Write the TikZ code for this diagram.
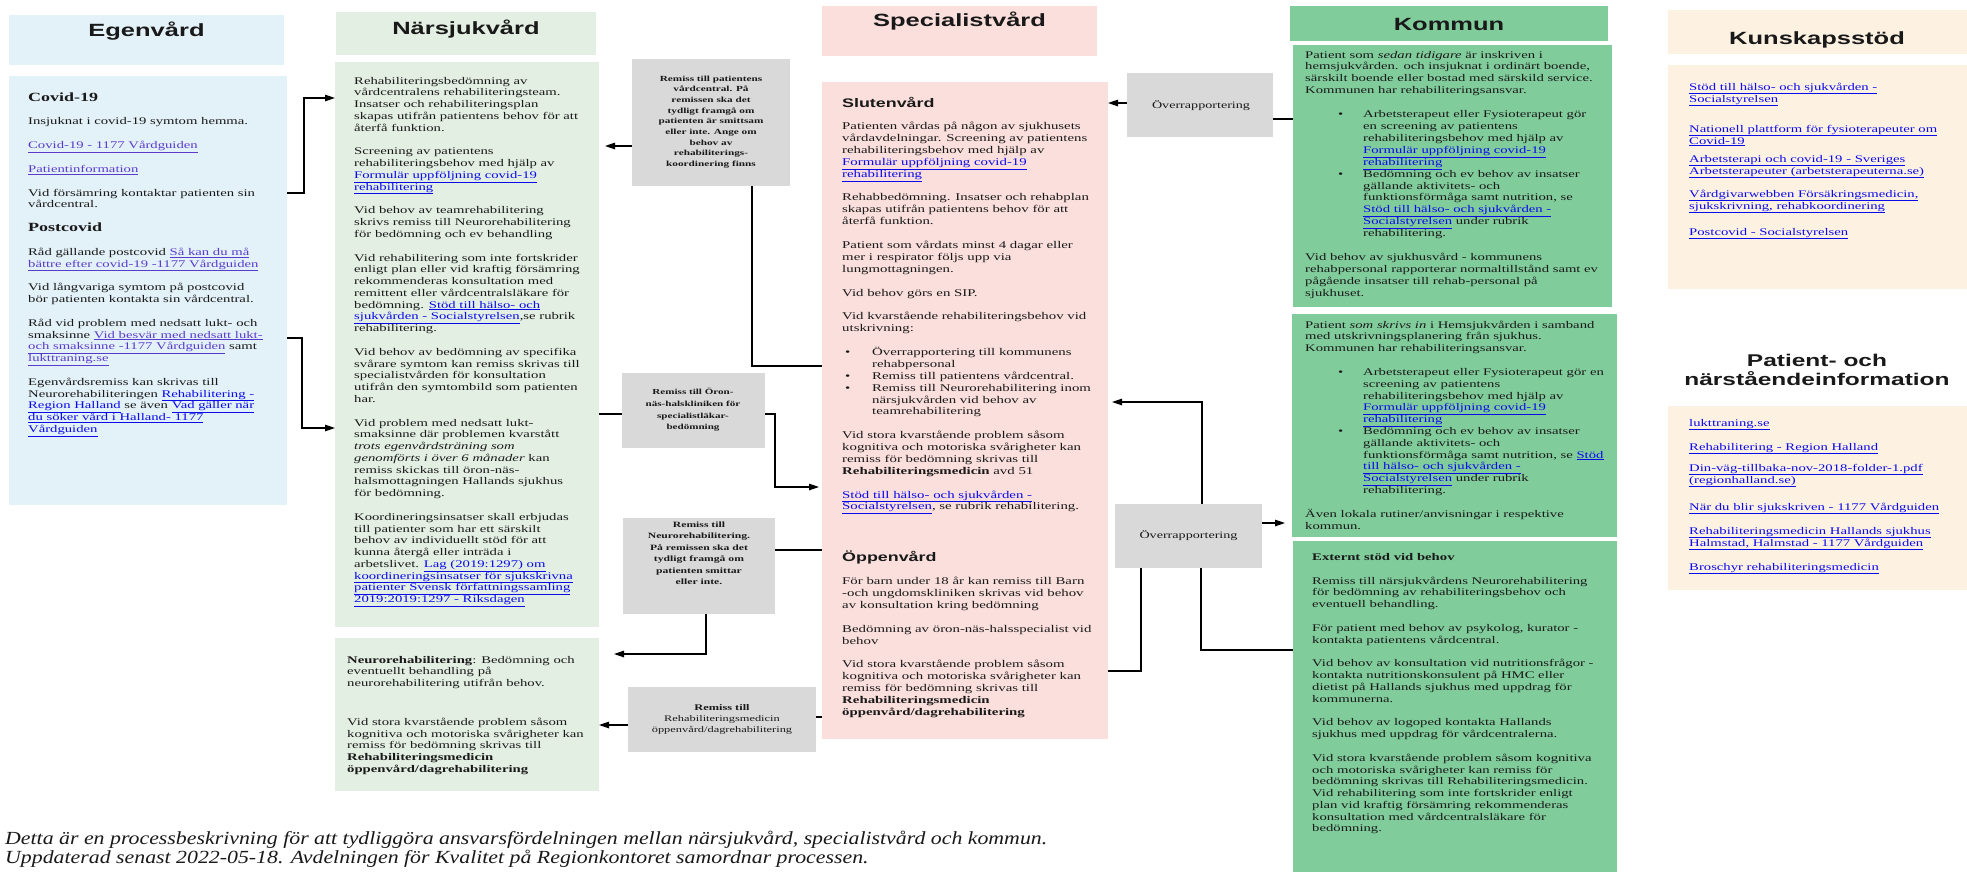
\documentclass[tikz,border=0pt]{standalone}
\usepackage{fontspec}
\setmainfont{Liberation Serif}[FakeStretch=1.44]
\newfontfamily\hdfont{Liberation Sans}[FakeStretch=1.44]
\newfontfamily\footfont{Liberation Serif}[FakeStretch=1.18]
\usetikzlibrary{arrows.meta}
\definecolor{egbg}{RGB}{227,241,248}
\definecolor{nsbg}{RGB}{227,239,227}
\definecolor{spbg}{RGB}{250,223,220}
\definecolor{kobg}{RGB}{128,204,155}
\definecolor{ksbg}{RGB}{253,242,226}
\definecolor{gry}{RGB}{217,217,217}
\definecolor{lnk}{RGB}{10,10,235}
\definecolor{lnkp}{RGB}{90,60,205}
\definecolor{ink}{RGB}{25,25,25}
\newcommand\lk[1]{{\color{lnk}\underline{#1}}}
\newcommand\lp[1]{{\color{lnkp}\underline{#1}}}
\newcommand\tb[3]{\parbox[t]{440pt}{\fontsize{#1}{#2}\selectfont\parskip=12pt\relax\raggedright\leavevmode #3}}
\newcommand\hb[1]{{\fontsize{12.5}{11.75}\selectfont\bfseries #1}}
\newcommand\kbul{\hspace*{33pt}\makebox[25pt][l]{•}}
\newcommand\kind{\hspace*{58pt}}
\newcommand\sbul{\hspace*{3pt}\makebox[27pt][l]{•}}
\newcommand\sind{\hspace*{30pt}}
\begin{document}
\begin{tikzpicture}[x=1pt,y=-1pt,
  panel/.style={anchor=north west, inner sep=0pt, outer sep=0pt, draw=none},
  hd/.style={anchor=base, inner sep=0pt, text=ink, font=\hdfont\bfseries\fontsize{17.7}{20}\selectfont},
  sub/.style={anchor=base west, inner sep=0pt, text=ink, font=\hdfont\bfseries\fontsize{12.4}{14}\selectfont},
  body/.style={anchor=base west, inner sep=0pt, text=ink},
  gtext/.style={align=center, inner sep=0pt, text=ink, font=\fontsize{7.8}{10.7}\selectfont\bfseries},
  otext/.style={inner sep=0pt, text=ink, font=\fontsize{9.8}{11}\selectfont},
  ln/.style={draw=black, line width=1.2pt},
  arr/.style={ln, -{Triangle[length=10pt,width=6.5pt]}},
]
\useasboundingbox (0,0) rectangle (1967,871);
\fill[white] (0,0) rectangle (1967,871);

% ---------- panels ----------
\node[panel, fill=egbg, minimum width=275pt, minimum height=50pt] (egH) at (9,15) {};
\node[panel, fill=egbg, minimum width=278pt, minimum height=429pt] (egB) at (9,76) {};
\node[panel, fill=nsbg, minimum width=260pt, minimum height=43pt] (nsH) at (336,12) {};
\node[panel, fill=nsbg, minimum width=264pt, minimum height=565pt] (ns1) at (335,62) {};
\node[panel, fill=nsbg, minimum width=264pt, minimum height=153pt] (ns2) at (335,638) {};
\node[panel, fill=spbg, minimum width=275pt, minimum height=50pt] (spH) at (822,6) {};
\node[panel, fill=spbg, minimum width=286pt, minimum height=657pt] (sp) at (822,82) {};
\node[panel, fill=kobg, minimum width=318pt, minimum height=35pt] (koH) at (1290,6) {};
\node[panel, fill=kobg, minimum width=319pt, minimum height=262pt] (k1) at (1293,45) {};
\node[panel, fill=kobg, minimum width=325pt, minimum height=223pt] (k2) at (1292,314) {};
\node[panel, fill=kobg, minimum width=324pt, minimum height=331pt] (k3) at (1293,541) {};
\node[panel, fill=ksbg, minimum width=300pt, minimum height=44pt] (ksH) at (1668,10) {};
\node[panel, fill=ksbg, minimum width=300pt, minimum height=224pt] (ks1) at (1668,65) {};
\node[panel, fill=ksbg, minimum width=300pt, minimum height=184pt] (ks2) at (1668,406) {};

\node[panel, fill=gry, minimum width=158pt, minimum height=127pt] (g1) at (632,59) {};
\node[panel, fill=gry, minimum width=143pt, minimum height=75pt] (g2) at (622,373) {};
\node[panel, fill=gry, minimum width=152pt, minimum height=96pt] (g3) at (623,518) {};
\node[panel, fill=gry, minimum width=188pt, minimum height=65pt] (g4) at (628,687) {};
\node[panel, fill=gry, minimum width=146pt, minimum height=64pt] (o1) at (1127,73) {};
\node[panel, fill=gry, minimum width=147pt, minimum height=64pt] (o2) at (1115,504) {};

% ---------- headers ----------
\node[hd] (egT) at (146.5,36) {Egenvård};
\node[hd] (nsT) at (466,34.3) {Närsjukvård};
\node[hd] (spT) at (959.5,26.7) {Specialistvård};
\node[hd] (koT) at (1449,30) {Kommun};
\node[hd] (ksT) at (1817,44) {Kunskapsstöd};
\node[hd, font=\hdfont\bfseries\fontsize{17}{19}\selectfont] (piT1) at (1817,366) {Patient- och};
\node[hd, font=\hdfont\bfseries\fontsize{17}{19}\selectfont] (piT2) at (1817,385) {närståendeinformation};

% ---------- Egenvård ----------
\node[body] (egX) at (28,101) {\tb{10.2}{11.75}{%
\hb{Covid-19}\par
Insjuknat i covid-19 symtom hemma.\par
\lp{Covid-19 - 1177 Vårdguiden}\par
\lp{Patientinformation}\par
Vid försämring kontaktar patienten sin\\ vårdcentral.\par
\hb{Postcovid}\par
Råd gällande postcovid \lp{Så kan du må}\\ \lp{bättre efter covid-19 -1177 Vårdguiden}\par
Vid långvariga symtom på postcovid\\ bör patienten kontakta sin vårdcentral.\par
Råd vid problem med nedsatt lukt- och\\ smaksinne \lp{Vid besvär med nedsatt lukt-}\\ \lp{och smaksinne -1177 Vårdguiden} samt\\ \lp{lukttraning.se}\par
Egenvårdsremiss kan skrivas till\\ Neurorehabiliteringen \lk{Rehabilitering -}\\ \lk{Region Halland} se även \lk{Vad gäller när}\\ \lk{du söker vård i Halland- 1177}\\ \lk{Vårdguiden}}};

% ---------- Närsjukvård ----------
\node[body] (ns1X) at (354,84) {\tb{10.2}{11.75}{%
Rehabiliteringsbedömning av\\ vårdcentralens rehabiliteringsteam.\\ Insatser och rehabiliteringsplan\\ skapas utifrån patientens behov för att\\ återfå funktion.\par
Screening av patientens\\ rehabiliteringsbehov med hjälp av\\ \lk{Formulär uppföljning covid-19}\\ \lk{rehabilitering}\par
Vid behov av teamrehabilitering\\ skrivs remiss till Neurorehabilitering\\ för bedömning och ev behandling\par
Vid rehabilitering som inte fortskrider\\ enligt plan eller vid kraftig försämring\\ rekommenderas konsultation med\\ remittent eller vårdcentralsläkare för\\ bedömning. \lk{Stöd till hälso- och}\\ \lk{sjukvården - Socialstyrelsen},se rubrik\\ rehabilitering.\par
Vid behov av bedömning av specifika\\ svårare symtom kan remiss skrivas till\\ specialistvården för konsultation\\ utifrån den symtombild som patienten\\ har.\par
Vid problem med nedsatt lukt-\\ smaksinne där problemen kvarstått\\ \textit{trots egenvårdsträning som}\\ \textit{genomförts i över 6 månader} kan\\ remiss skickas till öron-näs-\\ halsmottagningen Hallands sjukhus\\ för bedömning.\par
Koordineringsinsatser skall erbjudas\\ till patienter som har ett särskilt\\ behov av individuellt stöd för att\\ kunna återgå eller inträda i\\ arbetslivet. \lk{Lag (2019:1297) om}\\ \lk{koordineringsinsatser för sjukskrivna}\\ \lk{patienter Svensk författningssamling}\\ \lk{2019:2019:1297 - Riksdagen}}};

\node[body] (ns2X) at (347,663) {\tb{10.2}{11.75}{%
\textbf{Neurorehabilitering}: Bedömning och\\ eventuellt behandling på\\ neurorehabilitering utifrån behov.\par\vspace{15pt}
Vid stora kvarstående problem såsom\\ kognitiva och motoriska svårigheter kan\\ remiss för bedömning skrivas till\\ \textbf{Rehabiliteringsmedicin}\\ \textbf{öppenvård/dagrehabilitering}}};

% ---------- Specialistvård ----------
\node[sub] (slT) at (842,107.5) {Slutenvård};
\node[body] (slX) at (842,129.7) {\tb{10.3}{11.85}{%
Patienten vårdas på någon av sjukhusets\\ vårdavdelningar. Screening av patientens\\ rehabiliteringsbehov med hjälp av\\ \lk{Formulär uppföljning covid-19}\\ \lk{rehabilitering}\par
Rehabbedömning. Insatser och rehabplan\\ skapas utifrån patientens behov för att\\ återfå funktion.\par
Patient som vårdats minst 4 dagar eller\\ mer i respirator följs upp via\\ lungmottagningen.\par
Vid behov görs en SIP.\par
Vid kvarstående rehabiliteringsbehov vid\\ utskrivning:\par
\sbul Överrapportering till kommunens\\ \sind rehabpersonal\\ \sbul Remiss till patientens vårdcentral.\\ \sbul Remiss till Neurorehabilitering inom\\ \sind närsjukvården vid behov av\\ \sind teamrehabilitering\par
Vid stora kvarstående problem såsom\\ kognitiva och motoriska svårigheter kan\\ remiss för bedömning skrivas till\\ \textbf{Rehabiliteringsmedicin} avd 51\par
\lk{Stöd till hälso- och sjukvården -}\\ \lk{Socialstyrelsen}, se rubrik rehabilitering.}};

\node[sub] (opT) at (842,561) {Öppenvård};
\node[body] (opX) at (842,584.7) {\tb{10.3}{11.85}{%
För barn under 18 år kan remiss till Barn\\ -och ungdomskliniken skrivas vid behov\\ av konsultation kring bedömning\par
Bedömning av öron-näs-halsspecialist vid\\ behov\par
Vid stora kvarstående problem såsom\\ kognitiva och motoriska svårigheter kan\\ remiss för bedömning skrivas till\\ \textbf{Rehabiliteringsmedicin}\\ \textbf{öppenvård/dagrehabilitering}}};

% ---------- Kommun ----------
\node[body] (k1X) at (1305,58) {\tb{10.2}{11.9}{%
Patient som \textit{sedan tidigare} är inskriven i\\ hemsjukvården. och insjuknat i ordinärt boende,\\ särskilt boende eller bostad med särskild service.\\ Kommunen har rehabiliteringsansvar.\par
\kbul Arbetsterapeut eller Fysioterapeut gör\\ \kind en screening av patientens\\ \kind rehabiliteringsbehov med hjälp av\\ \kind\lk{Formulär uppföljning covid-19}\\ \kind\lk{rehabilitering}\\ \kbul Bedömning och ev behov av insatser\\ \kind gällande aktivitets- och\\ \kind funktionsförmåga samt nutrition, se\\ \kind\lk{Stöd till hälso- och sjukvården -}\\ \kind\lk{Socialstyrelsen} under rubrik\\ \kind rehabilitering.\par
Vid behov av sjukhusvård - kommunens\\ rehabpersonal rapporterar normaltillstånd samt ev\\ pågående insatser till rehab-personal på\\ sjukhuset.}};

\node[body] (k2X) at (1305,328) {\tb{10.2}{11.8}{%
Patient \textit{som skrivs in} i Hemsjukvården i samband\\ med utskrivningsplanering från sjukhus.\\ Kommunen har rehabiliteringsansvar.\par
\kbul Arbetsterapeut eller Fysioterapeut gör en\\ \kind screening av patientens\\ \kind rehabiliteringsbehov med hjälp av\\ \kind\lk{Formulär uppföljning covid-19}\\ \kind\lk{rehabilitering}\\ \kbul Bedömning och ev behov av insatser\\ \kind gällande aktivitets- och\\ \kind funktionsförmåga samt nutrition, se \lk{Stöd}\\ \kind\lk{till hälso- och sjukvården -}\\ \kind\lk{Socialstyrelsen} under rubrik\\ \kind rehabilitering.\par
Även lokala rutiner/anvisningar i respektive\\ kommun.}};

\node[body] (k3X) at (1312,560.3) {\tb{10.2}{11.75}{%
\textbf{Externt stöd vid behov}\par
Remiss till närsjukvårdens Neurorehabilitering\\ för bedömning av rehabiliteringsbehov och\\ eventuell behandling.\par
För patient med behov av psykolog, kurator -\\ kontakta patientens vårdcentral.\par
Vid behov av konsultation vid nutritionsfrågor -\\ kontakta nutritionskonsulent på HMC eller\\ dietist på Hallands sjukhus med uppdrag för\\ kommunerna.\par
Vid behov av logoped kontakta Hallands\\ sjukhus med uppdrag för vårdcentralerna.\par
Vid stora kvarstående problem såsom kognitiva\\ och motoriska svårigheter kan remiss för\\ bedömning skrivas till Rehabiliteringsmedicin.\\ Vid rehabilitering som inte fortskrider enligt\\ plan vid kraftig försämring rekommenderas\\ konsultation med vårdcentralsläkare för\\ bedömning.}};

% ---------- Kunskapsstöd ----------
\node[body] (ks1a) at (1689,90) {\tb{10.2}{12}{\lk{Stöd till hälso- och sjukvården -}\\ \lk{Socialstyrelsen}}};
\node[body] (ks1b) at (1689,132) {\tb{10.2}{12}{\lk{Nationell plattform för fysioterapeuter om}\\ \lk{Covid-19}}};
\node[body] (ks1c) at (1689,162) {\tb{10.2}{12}{\lk{Arbetsterapi och covid-19 - Sveriges}\\ \lk{Arbetsterapeuter (arbetsterapeuterna.se)}}};
\node[body] (ks1d) at (1689,197) {\tb{10.2}{12}{\lk{Vårdgivarwebben Försäkringsmedicin,}\\ \lk{sjukskrivning, rehabkoordinering}}};
\node[body] (ks1e) at (1689,235) {\tb{10.2}{12}{\lk{Postcovid - Socialstyrelsen}}};

\node[body] (ks2a) at (1689,426) {\tb{10.2}{12}{\lk{lukttraning.se}}};
\node[body] (ks2b) at (1689,450) {\tb{10.2}{12}{\lk{Rehabilitering - Region Halland}}};
\node[body] (ks2c) at (1689,471) {\tb{10.2}{12}{\lk{Din-väg-tillbaka-nov-2018-folder-1.pdf}\\ \lk{(regionhalland.se)}}};
\node[body] (ks2d) at (1689,510) {\tb{10.2}{12}{\lk{När du blir sjukskriven - 1177 Vårdguiden}}};
\node[body] (ks2e) at (1689,534) {\tb{10.2}{12}{\lk{Rehabiliteringsmedicin Hallands sjukhus}\\ \lk{Halmstad, Halmstad - 1177 Vårdguiden}}};
\node[body] (ks2f) at (1689,570) {\tb{10.2}{12}{\lk{Broschyr rehabiliteringsmedicin}}};

% ---------- grey boxes text ----------
\node[gtext] (g1t) at (711,122) {Remiss till patientens\\vårdcentral. På\\remissen ska det\\tydligt framgå om\\patienten är smittsam\\eller inte. Ange om\\behov av\\rehabiliterings-\\koordinering finns};
\node[gtext, font=\fontsize{7.7}{11.6}\selectfont\bfseries] (g2t) at (693,410) {Remiss till Öron-\\näs-halskliniken för\\specialistläkar-\\bedömning};
\node[gtext, font=\fontsize{8.1}{11.5}\selectfont\bfseries] (g3t) at (699,553) {Remiss till\\Neurorehabilitering.\\På remissen ska det\\tydligt framgå om\\patienten smittar\\eller inte.};
\node[gtext, font=\fontsize{8.6}{11}\selectfont] (g4t) at (722,719.5) {\textbf{Remiss till}\\Rehabiliteringsmedicin\\öppenvård/dagrehabilitering};
\node[otext] (o1t) at (1201,106) {Överrapportering};
\node[otext] (o2t) at (1188.5,536) {Överrapportering};

% ---------- footer ----------
\node[body] (foot) at (5,844) {\parbox[t]{1500pt}{\footfont\itshape\fontsize{18.5}{19}\selectfont\leavevmode Detta är en processbeskrivning för att tydliggöra ansvarsfördelningen mellan närsjukvård, specialistvård och kommun.\\Uppdaterad senast 2022-05-18. Avdelningen för Kvalitet på Regionkontoret samordnar processen.}};

% ---------- helper levels ----------
\foreach \yy in {98,103,119,146,193,338,366,402,414,428,487,523,550,650,654,671,717,725}
  \coordinate (h\yy) at (0,\yy);
\foreach \xx in {706,752,775,1141,1201,1202}
  \coordinate (v\xx) at (\xx,0);

% ---------- connectors ----------
\draw[arr] (egB.east |- h193) -- ++(17,0) |- (ns1.west |- h98);
\draw[arr] (egB.east |- h338) -- ++(15,0) |- (ns1.west |- h428);
\draw[arr, shorten >=6pt] (g1.west |- h146) -- (ns1.east |- h146);
\draw[ln] (sp.west |- h366) -| (g1.south -| v752);
\draw[ln] (ns1.east |- h414) -- (g2.west |- h414);
\draw[arr, shorten >=3pt] (g2.east |- h414) -- (v775 |- h414) |- (sp.west |- h487);
\draw[ln] (sp.west |- h550) -- (g3.east |- h550);
\draw[arr, shorten >=15pt] (g3.south -| v706) |- (ns2.east |- h654);
\draw[ln] (sp.west |- h717) -- (g4.east |- h717);
\draw[arr] (g4.west |- h725) -- (ns2.east |- h725);
\draw[ln] (k1.west |- h119) -- (o1.east |- h119);
\draw[arr] (o1.west |- h103) -- (sp.east |- h103);
\draw[arr, shorten >=4pt] (o2.north -| v1202) |- (sp.east |- h402);
\draw[arr, shorten >=7pt] (o2.east |- h523) -- (k2.west |- h523);
\draw[ln] (sp.east |- h671) -| (o2.south -| v1141);
\draw[ln] (o2.south -| v1201) |- (k3.west |- h650);
\end{tikzpicture}
\end{document}
